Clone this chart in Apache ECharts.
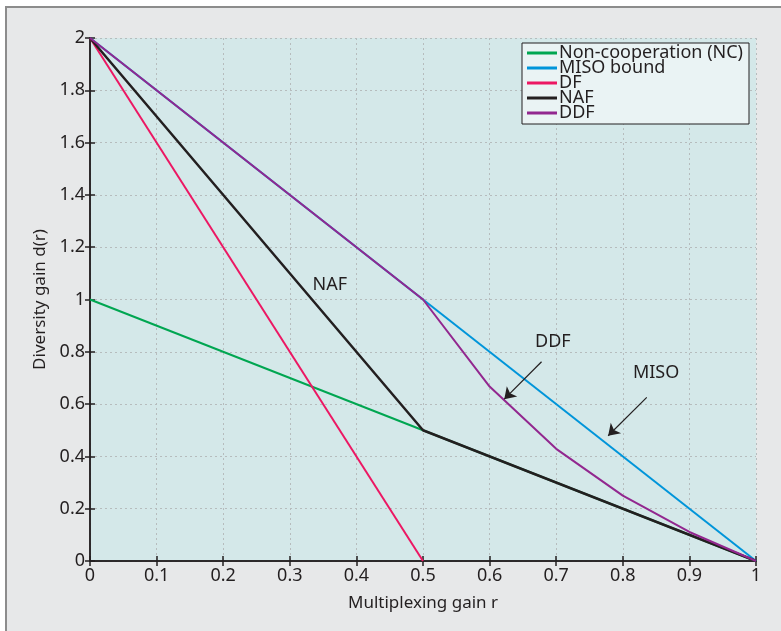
<!DOCTYPE html>
<html>
<head>
<meta charset="utf-8">
<script src="https://cdn.jsdelivr.net/npm/echarts@6/dist/echarts.min.js"></script>
<style>
  html, body { margin: 0; padding: 0; background: #fff; }
  .frame {
    position: absolute; left: 5px; top: 6px; width: 790px; height: 640px;
    background: #e7e8e9; border-left: 2px solid #8c8c8c; border-top: 2px solid #8c8c8c;
  }
  #chart { position: absolute; left: 0; top: 0; width: 781px; height: 631px; }
</style>
</head>
<body>
<div class="frame"></div>
<div id="chart"></div>
<script>
// x values (multiplexing gain r) and diversity gains per scheme
var ncX = [0, 1];
var ncY = [1, 0];
var misoX = [0, 1];
var misoY = [2, 0];
var dfX = [0, 0.5];
var dfY = [2, 0];
var nafX = [0, 0.5, 1];
var nafY = [2, 0.5, 0];
var ddfX = [0, 0.5, 0.6, 0.7, 0.8, 0.9, 1];
var ddfY = [2, 1, 0.667, 0.429, 0.25, 0.111, 0];

var xTicks = ['0', '0.1', '0.2', '0.3', '0.4', '0.5', '0.6', '0.7', '0.8', '0.9', '1'];
var yTicks = ['0', '0.2', '0.4', '0.6', '0.8', '1', '1.2', '1.4', '1.6', '1.8', '2'];

// annotations: [text, x, y]
var notes = [['NAF', 0.36, 1.055], ['DDF', 0.695, 0.837], ['MISO', 0.85, 0.719]];
// arrows: [x0, y0, x1, y1]
var arrows = [[0.678, 0.762, 0.622, 0.619], [0.836, 0.626, 0.778, 0.479]];

function pairs(xs, ys) {
  return xs.map(function (x, i) { return [x, ys[i]]; });
}

var font = '"Noto Sans", sans-serif';
var ink = '#231f20';

var chart = echarts.init(document.getElementById('chart'));

function line(name, xs, ys, color, width) {
  return {
    name: name, type: 'line', data: pairs(xs, ys), symbol: 'none',
    lineStyle: { color: color, width: width }, itemStyle: { color: color }
  };
}

var series = [
  line('Non-cooperation (NC)', ncX, ncY, '#00a651', 2),
  line('MISO bound', misoX, misoY, '#0095da', 2),
  line('DF', dfX, dfY, '#ec1763', 2),
  line('NAF', nafX, nafY, ink, 2.5),
  line('DDF', ddfX, ddfY, '#92278f', 2)
];

series.push({
  type: 'line', data: [], silent: true,
  markLine: {
    silent: true, symbol: ['none', 'arrow'], symbolSize: 11,
    lineStyle: { color: ink, width: 1.2, type: 'solid' }, label: { show: false },
    data: arrows.map(function (a) {
      return [{ coord: [a[0], a[1]] }, { coord: [a[2], a[3]] }];
    })
  },
  markPoint: {
    silent: true, symbol: 'rect', symbolSize: 0,
    label: { show: true, color: ink, fontFamily: font, fontSize: 18, formatter: '{b}' },
    data: notes.map(function (n) { return { name: n[0], coord: [n[1], n[2]] }; })
  }
});

var option = {
  animation: false,
  grid: { left: 90, right: 25, top: 38, bottom: 70, show: true, backgroundColor: '#d4e8e9', borderWidth: 0 },
  legend: {
    orient: 'vertical', right: 32, top: 43, itemGap: -3, itemWidth: 30, itemHeight: 3,
    icon: 'rect', padding: [1, 6, 2, 5],
    backgroundColor: '#eaf3f4', borderColor: ink, borderWidth: 1,
    textStyle: { fontFamily: font, fontSize: 18, color: ink, padding: [0, 0, 0, -3] },
    data: ['Non-cooperation (NC)', 'MISO bound', 'DF', 'NAF', 'DDF']
  },
  xAxis: [{
    type: 'value', min: 0, max: 1, interval: 0.1,
    name: 'Multiplexing gain r', nameLocation: 'middle', nameGap: 34,
    nameTextStyle: { fontFamily: font, fontSize: 17, color: ink },
    axisLine: { onZero: false, lineStyle: { color: ink, width: 1.5 } },
    axisTick: { inside: true, length: 5, lineStyle: { color: ink, width: 1.5 } },
    axisLabel: { fontFamily: font, fontSize: 18, color: ink, margin: 6,
      formatter: function (v) { return xTicks[Math.round(v * 10)]; } },
    splitLine: { lineStyle: { color: '#b6bcbd', type: [2, 3], width: 1 } }
  }, {
    type: 'value', min: 0, max: 1, interval: 0.1, position: 'top',
    axisLine: { show: true, lineStyle: { color: ink, width: 1.5 } },
    axisTick: { inside: true, length: 5, lineStyle: { color: ink, width: 1.5 } },
    axisLabel: { show: false }, splitLine: { show: false }
  }],
  yAxis: [{
    type: 'value', min: 0, max: 2, interval: 0.2,
    name: 'Diversity gain d(r)', nameLocation: 'middle', nameGap: 38,
    nameTextStyle: { fontFamily: font, fontSize: 17, color: ink },
    axisLine: { show: true, onZero: false, lineStyle: { color: ink, width: 1.5 } },
    axisTick: { inside: true, length: 5, lineStyle: { color: ink, width: 1.5 } },
    axisLabel: { fontFamily: font, fontSize: 18, color: ink, margin: 5,
      formatter: function (v) { return yTicks[Math.round(v * 5)]; } },
    splitLine: { lineStyle: { color: '#b6bcbd', type: [2, 3], width: 1 } }
  }, {
    type: 'value', min: 0, max: 2, interval: 0.2, position: 'right',
    axisLine: { show: true, lineStyle: { color: ink, width: 1.5 } },
    axisTick: { inside: true, length: 5, lineStyle: { color: ink, width: 1.5 } },
    axisLabel: { show: false }, splitLine: { show: false }
  }],
  series: series
};

chart.setOption(option);
</script>
</body>
</html>
